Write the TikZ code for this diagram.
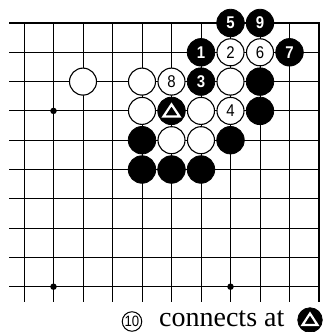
\documentclass[tikz,border=0pt]{standalone}
\usepackage{fontspec}
\setmainfont{Liberation Serif}
\newfontfamily\numfont[FakeStretch=0.88]{Liberation Sans}
\begin{document}
\begin{tikzpicture}[x=1pt,y=-1pt,
  gridline/.style={line width=0.9pt,black},
  edgeline/.style={line width=1.7pt,black},
  bst/.style={circle,fill=black,draw=black,line width=0.8pt,minimum size=27.5pt,inner sep=0pt,text=white,
    font=\numfont\bfseries\fontsize{17}{17}\selectfont},
  wst/.style={circle,fill=white,draw=black,line width=1.1pt,minimum size=27pt,inner sep=0pt,text=black,
    font=\numfont\fontsize{17}{17}\selectfont},
  hoshi/.style={circle,fill=black,minimum size=6.5pt,inner sep=0pt},
  trimark/.style={white,line width=2.2pt,line join=miter}
]
\useasboundingbox (0,0) rectangle (324,332);
\def\dx{29.5}\def\dy{29.3}
% grid
\foreach \c in {0,...,9} \draw[gridline] ({24+\dx*\c},23) -- ({24+\dx*\c},302);
\foreach \r in {1,...,9} \draw[gridline] (9,{23+\dy*\r}) -- ({24+\dx*10},{23+\dy*\r});
\draw[edgeline] (9,23) -- ({24+\dx*10},23) -- ({24+\dx*10},302);
% star points
\node[hoshi] (h1) at ({24+\dx*1},{23+\dy*3}) {};
\node[hoshi] (h2) at ({24+\dx*1},{23+\dy*9}) {};
\node[hoshi] (h3) at ({24+\dx*7},{23+\dy*9}) {};
% stones
\foreach \c/\r/\t/\n in {7/0/5/b5,8/0/9/b9,6/1/1/b1,9/1/7/b7,6/2/3/b3,8/2//b82,8/3//b83,4/4//b44,7/4//b74,4/5//b45,5/5//b55,6/5//b65}
  \node[bst] (\n) at ({24+\dx*\c},{23+\dy*\r}) {\t};
\foreach \c/\r/\t/\n in {7/1/2/w2,8/1/6/w6,2/2//w22,4/2//w42,5/2/8/w8,7/2//w72,4/3//w43,6/3//w63,7/3/4/w4,5/4//w54,6/4//w64}
  \node[wst] (\n) at ({24+\dx*\c},{23+\dy*\r}) {\t};
\node[bst] (tri) at ({24+\dx*5},{23+\dy*3}) {};
\draw[trimark] ([shift={(0,-6.5)}]tri.center) -- ([shift={(8,5.5)}]tri.center) -- ([shift={(-8,5.5)}]tri.center) -- cycle;
% caption
\node[wst,minimum size=19.5pt,line width=1pt,font=\numfont\fontsize{15}{15}\selectfont] (ten) at (132,321.5) {10};
\node[anchor=base west,inner sep=0pt,font=\fontsize{28}{28}\selectfont] (cap) at (159,326) {connects at};
\node[bst,minimum size=24.5pt] (tric) at (310,320) {};
\draw[trimark] ([shift={(0,-6.5)}]tric.center) -- ([shift={(7.5,5)}]tric.center) -- ([shift={(-7.5,5)}]tric.center) -- cycle;
\end{tikzpicture}
\end{document}
